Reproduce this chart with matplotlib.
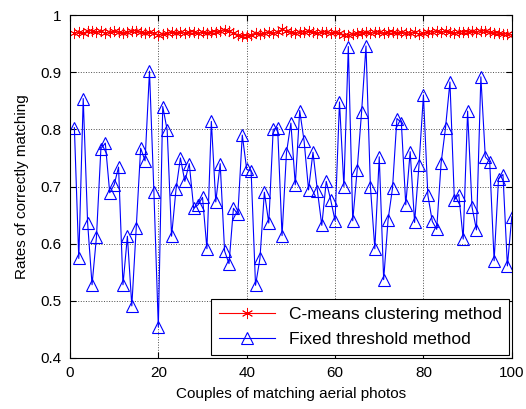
import matplotlib
matplotlib.use('Agg')
import matplotlib.pyplot as plt
import numpy as np

# couples 1..100
couples = np.arange(1, 101)

# Fixed threshold method
fixed_rate = [0.803, 0.574, 0.854, 0.636, 0.528, 0.612, 0.766, 0.776, 0.689, 0.703,
              0.734, 0.528, 0.613, 0.491, 0.628, 0.767, 0.745, 0.902, 0.690, 0.454,
              0.840, 0.799, 0.613, 0.695, 0.750, 0.709, 0.740, 0.662, 0.668, 0.681,
              0.591, 0.814, 0.673, 0.740, 0.587, 0.565, 0.662, 0.651, 0.790, 0.730,
              0.727, 0.527, 0.574, 0.690, 0.636, 0.800, 0.803, 0.614, 0.759, 0.811,
              0.703, 0.833, 0.779, 0.694, 0.760, 0.693, 0.632, 0.709, 0.677, 0.640,
              0.848, 0.700, 0.945, 0.640, 0.729, 0.830, 0.946, 0.700, 0.591, 0.752,
              0.537, 0.642, 0.697, 0.819, 0.812, 0.668, 0.761, 0.637, 0.738, 0.860,
              0.685, 0.639, 0.625, 0.741, 0.803, 0.883, 0.677, 0.686, 0.608, 0.832,
              0.664, 0.624, 0.892, 0.752, 0.743, 0.570, 0.714, 0.721, 0.561, 0.647]

# C-means clustering method
cmeans_rate = [0.969, 0.971, 0.968, 0.972, 0.973, 0.970, 0.972, 0.969, 0.971, 0.972,
               0.970, 0.968, 0.971, 0.972, 0.973, 0.970, 0.969, 0.971, 0.968, 0.966,
               0.967, 0.969, 0.970, 0.968, 0.971, 0.969, 0.970, 0.971, 0.969, 0.970,
               0.968, 0.970, 0.971, 0.973, 0.974, 0.972, 0.969, 0.965, 0.963, 0.964,
               0.966, 0.968, 0.967, 0.969, 0.970, 0.968, 0.971, 0.975, 0.972, 0.970,
               0.969, 0.971, 0.970, 0.972, 0.971, 0.969, 0.970, 0.971, 0.969, 0.970,
               0.968, 0.965, 0.966, 0.967, 0.969, 0.968, 0.970, 0.969, 0.971, 0.970,
               0.968, 0.970, 0.971, 0.969, 0.970, 0.968, 0.969, 0.970, 0.967, 0.968,
               0.970, 0.971, 0.972, 0.970, 0.972, 0.971, 0.969, 0.970, 0.971, 0.970,
               0.972, 0.971, 0.973, 0.972, 0.970, 0.969, 0.968, 0.967, 0.967, 0.966]

plt.rcParams['font.family'] = ['Liberation Sans', 'DejaVu Sans']
plt.rcParams['font.size'] = 11

fig = plt.figure(figsize=(5.26, 4.09), dpi=100)
ax = fig.add_axes([0.133, 0.125, 0.84, 0.838])

ax.plot(couples, cmeans_rate, color='red', linewidth=0.8,
        marker=(6, 2, 0), markersize=8, markeredgewidth=0.6,
        label='C-means clustering method')
ax.plot(couples, fixed_rate, color='blue', linewidth=0.8,
        marker='^', markersize=8, markerfacecolor='none',
        markeredgecolor='blue', markeredgewidth=0.8,
        label='Fixed threshold method')

ax.set_xlim(0, 100)
ax.set_ylim(0.4, 1.0)
ax.set_xticks([0, 20, 40, 60, 80, 100])
ax.set_yticks([0.4, 0.5, 0.6, 0.7, 0.8, 0.9, 1.0])
ax.set_yticklabels(['0.4', '0.5', '0.6', '0.7', '0.8', '0.9', '1'])

ax.grid(True, color='0.3', linestyle=':', linewidth=0.7)
ax.tick_params(direction='in', top=True, right=True, length=4, pad=6)
for s in ax.spines.values():
    s.set_linewidth(0.8)

ax.set_xlabel('Couples of matching aerial photos', labelpad=5)
ax.set_ylabel('Rates of correctly matching', labelpad=8)

leg = ax.legend(loc='lower right', fancybox=False, edgecolor='black',
                framealpha=1, handlelength=3.2, borderpad=0.45,
                borderaxespad=0.15, labelspacing=0.6, fontsize=12.5)
leg.get_frame().set_linewidth(0.8)

fig.savefig('out.png', dpi=100)
